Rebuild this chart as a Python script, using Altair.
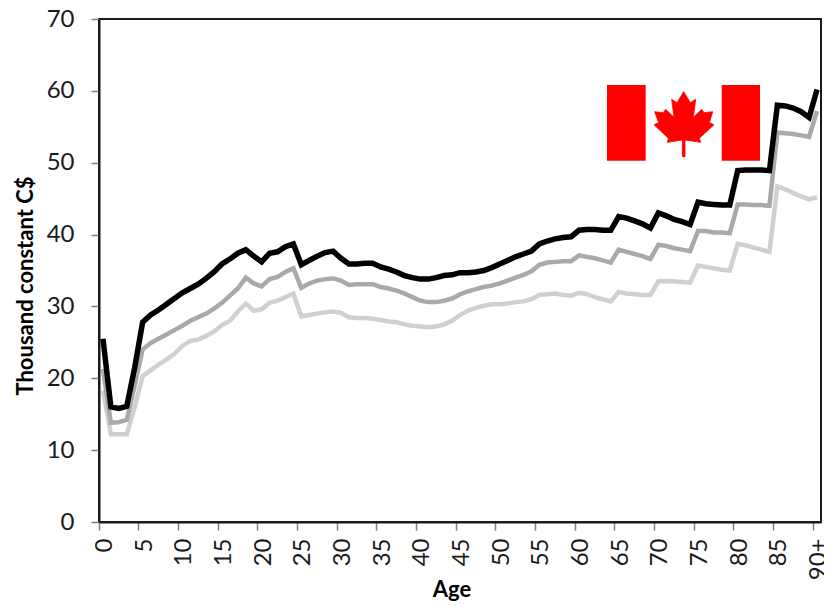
import altair as alt
import pandas as pd

ages = [str(a) for a in range(90)] + ["90+"]
tick_labels = [str(a) for a in range(0, 90, 5)] + ["90+"]

black = [25.5,16,15.8,16.1,21.5,27.8,28.8,29.5,30.3,31.1,
         31.9,32.5,33.1,33.9,34.8,35.9,36.6,37.4,37.9,37,
         36.2,37.4,37.6,38.3,38.7,35.8,36.4,37,37.5,37.7,
         36.7,35.9,35.9,36,36,35.5,35.2,34.8,34.3,34,
         33.8,33.8,34,34.3,34.4,34.7,34.7,34.8,35,35.4,
         35.9,36.4,36.9,37.3,37.7,38.7,39.1,39.4,39.6,39.7,
         40.6,40.7,40.7,40.6,40.6,42.5,42.3,41.9,41.5,40.9,
         43,42.6,42.1,41.8,41.4,44.5,44.3,44.2,44.1,44.1,
         48.9,49,49,49,48.9,58,57.9,57.6,57.1,56.3,
         60.2]
grey = [21.3,13.8,13.9,14.2,19,24,24.9,25.5,26.1,26.7,
        27.3,28,28.5,29,29.7,30.5,31.5,32.5,34,33.2,
        32.8,33.8,34.1,34.8,35.3,32.6,33.2,33.6,33.8,33.9,
        33.6,33,33.1,33.1,33.1,32.7,32.5,32.2,31.8,31.3,
        30.8,30.6,30.6,30.8,31.1,31.7,32.1,32.4,32.7,32.9,
        33.2,33.6,34,34.4,34.9,35.8,36.1,36.2,36.3,36.3,
        37.1,36.9,36.7,36.4,36.1,37.9,37.6,37.3,37,36.6,
        38.6,38.4,38.1,37.9,37.7,40.5,40.5,40.3,40.3,40.2,
        44.2,44.2,44.1,44.1,44,54.2,54.1,54,53.8,53.6,
        57.2]
light = [18.3,12.2,12.2,12.2,16,20.3,21.1,21.9,22.6,23.4,
         24.5,25.2,25.4,25.9,26.5,27.4,28,29.3,30.4,29.4,
         29.6,30.5,30.8,31.3,31.8,28.6,28.8,29,29.2,29.3,
         29.1,28.5,28.4,28.4,28.3,28.1,27.9,27.8,27.5,27.3,
         27.2,27.1,27.2,27.5,28,28.8,29.4,29.8,30.1,30.3,
         30.3,30.4,30.6,30.7,31,31.6,31.7,31.8,31.6,31.5,
         31.9,31.7,31.3,31,30.7,32,31.8,31.7,31.6,31.6,
         33.5,33.5,33.5,33.4,33.3,35.7,35.5,35.3,35.1,35,
         38.7,38.5,38.2,37.9,37.6,46.7,46.3,45.8,45.3,44.9,
         45.2]

FONT = "Lato"
INK = "#1a1a1a"
TICK = "#7f7f7f"

df = pd.DataFrame({"age": ages, "light": light, "grey": grey, "black": black})

x = alt.X("age:N", sort=ages, title="Age",
          scale=alt.Scale(type="band", paddingInner=0, paddingOuter=0),
          axis=alt.Axis(values=tick_labels, labelAngle=-90, bandPosition=0, tickExtra=False,
                        labelBaseline="middle",
                        labelAlign="right", labelFont=FONT, labelFontSize=24, labelColor=INK,
                        labelPadding=8, labelOffset=2, labelFlush=False, labelBound=False,
                        tickColor=TICK, tickWidth=1.5, tickSize=8, domainColor=INK, domainWidth=2,
                        titleFont=FONT, titleFontSize=22, titleFontWeight="bold", titleColor="black",
                        titleX=352.5, titleY=74, titleBaseline="alphabetic", grid=False))
y = alt.Y("v:Q", title="Thousand constant C$",
          scale=alt.Scale(domain=[0, 70], nice=False),
          axis=alt.Axis(values=list(range(0, 71, 10)), labelFont=FONT, labelFontSize=24, labelColor=INK,
                        labelPadding=17, labelFlush=False, labelBound=False,
                        tickColor=TICK, tickWidth=1.5, tickSize=8, domainColor=INK, domainWidth=2,
                        titleFont=FONT, titleFontSize=22, titleFontWeight="bold", titleColor="black",
                        titleX=-67, titleY=266.5, titleBaseline="alphabetic", grid=False))


def series(col, color, width):
    return (alt.Chart(df).transform_calculate(v=f"datum.{col}")
            .mark_line(color=color, strokeWidth=width, strokeJoin="miter")
            .encode(x=x, y=y))


# flag ornament: pixel placement inside the plot area
PL, PT = 99, 19


def band(x0, x1):
    return alt.Chart(df.head(1)).mark_rect(color="#ff0000").encode(
        x=alt.value(x0 - PL), x2=alt.value(x1 - PL),
        y=alt.value(85 - PT), y2=alt.value(160.7 - PT))


leaf_px = [(311,95),(331,128),(347,118),(340,172),(365,148),(372,158),(398,155),(388,188),(402,194),
           (358,235),(362,247),(315,240),(315,290),(307,290),(307,240),(262,247),(265,235),(222,194),
           (236,188),(224,155),(250,158),(257,148),(282,172),(275,118),(291,128)]
cx, cy, half = 311, 192.5, 90.0
leaf_path = "M" + " L".join(f"{(a-cx)/half:.3f},{(b-cy)/half:.3f}" for a, b in leaf_px) + " Z"
leaf = alt.Chart(df.head(1)).mark_point(shape=leaf_path, filled=True, fill="#ff0000", stroke="#ff0000",
                                        opacity=1, size=3600, strokeWidth=0.8).encode(
    x=alt.value(580 + cx/3 - PL), y=alt.value(60 + cy/3 - PT))

chart = alt.layer(
    series("light", "#d0d0d0", 4.5), series("grey", "#a9a9a9", 4.5), series("black", "#000000", 5.5),
    band(607, 645.7), band(721.7, 760), leaf
).properties(
    width=722, height=503,
    autosize=alt.AutoSizeParams(type="none"),
    padding={"left": 91, "top": 11, "right": 3, "bottom": 84},
).configure_view(stroke=INK, strokeWidth=2)

chart.save("out.html", embed_options={"renderer": "svg", "actions": False})
